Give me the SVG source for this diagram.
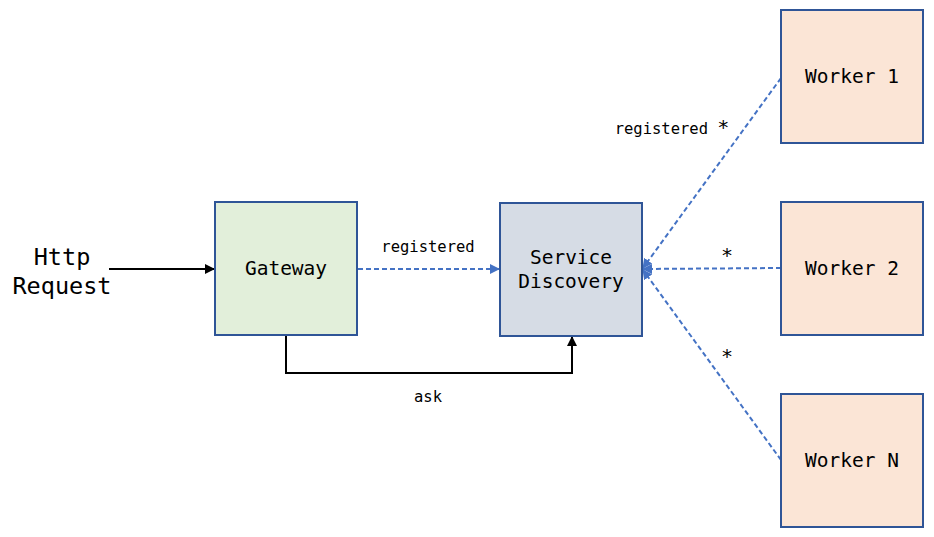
<svg xmlns="http://www.w3.org/2000/svg" width="934" height="537" viewBox="0 0 934 537">
<style>
.box{stroke:#2f5597;stroke-width:2}
.t{font-family:"DejaVu Sans Mono","Liberation Mono",monospace;fill:#000;text-anchor:middle}
.n{font-size:19.5px}
.l{font-size:15.5px}
.s{font-size:20px}
.dash{fill:none;stroke:#4472c4;stroke-width:2;stroke-dasharray:5,3}
.solid{fill:none;stroke:#000;stroke-width:2}
</style>
<defs>
<marker id="ab" markerWidth="10" markerHeight="10" refX="9" refY="5" orient="auto" markerUnits="userSpaceOnUse"><path d="M0,0 L10,5 L0,10 z" fill="#4472c4"/></marker>
<marker id="ak" markerWidth="10" markerHeight="10" refX="9" refY="5" orient="auto" markerUnits="userSpaceOnUse"><path d="M0,0 L10,5 L0,10 z" fill="#000"/></marker>
</defs>
<rect width="934" height="537" fill="#fff"/>
<g id="connectors">
<line class="solid" x1="109" y1="269" x2="214" y2="269" marker-end="url(#ak)"/>
<line class="dash" x1="358" y1="269" x2="499" y2="269" marker-end="url(#ab)"/>
<polyline class="solid" points="286,336 286,373 572,373 572,337" marker-end="url(#ak)"/>
<line class="dash" x1="781" y1="78" x2="643" y2="268" marker-end="url(#ab)"/>
<line class="dash" x1="781" y1="268" x2="643" y2="269" marker-end="url(#ab)"/>
<line class="dash" x1="781" y1="460" x2="643" y2="270" marker-end="url(#ab)"/>
<text class="t l" x="428" y="252">registered</text>
<text class="t l" x="428" y="402">ask</text>
<text class="t l" x="672" y="134">registered <tspan class="s">*</tspan></text>
<text class="t s" x="727" y="262">*</text>
<text class="t s" x="727" y="363">*</text>
</g>
<g id="http">
<text class="t" style="font-size:23.5px" x="62" y="265">Http</text>
<text class="t" style="font-size:23.5px" x="62" y="294">Request</text>
</g>
<g id="gateway">
<rect class="box" x="215" y="202" width="142" height="133" fill="#e2efda"/>
<text class="t n" x="286" y="275">Gateway</text>
</g>
<g id="discovery">
<rect class="box" x="500" y="203" width="142" height="133" fill="#d6dce5"/>
<text class="t n" x="571" y="264">Service</text>
<text class="t n" x="571" y="288">Discovery</text>
</g>
<g id="worker1">
<rect class="box" x="781" y="10" width="142" height="133" fill="#fbe5d6"/>
<text class="t n" x="852" y="83">Worker 1</text>
</g>
<g id="worker2">
<rect class="box" x="781" y="202" width="142" height="133" fill="#fbe5d6"/>
<text class="t n" x="852" y="275">Worker 2</text>
</g>
<g id="workerN">
<rect class="box" x="781" y="394" width="142" height="133" fill="#fbe5d6"/>
<text class="t n" x="852" y="467">Worker N</text>
</g>
</svg>
